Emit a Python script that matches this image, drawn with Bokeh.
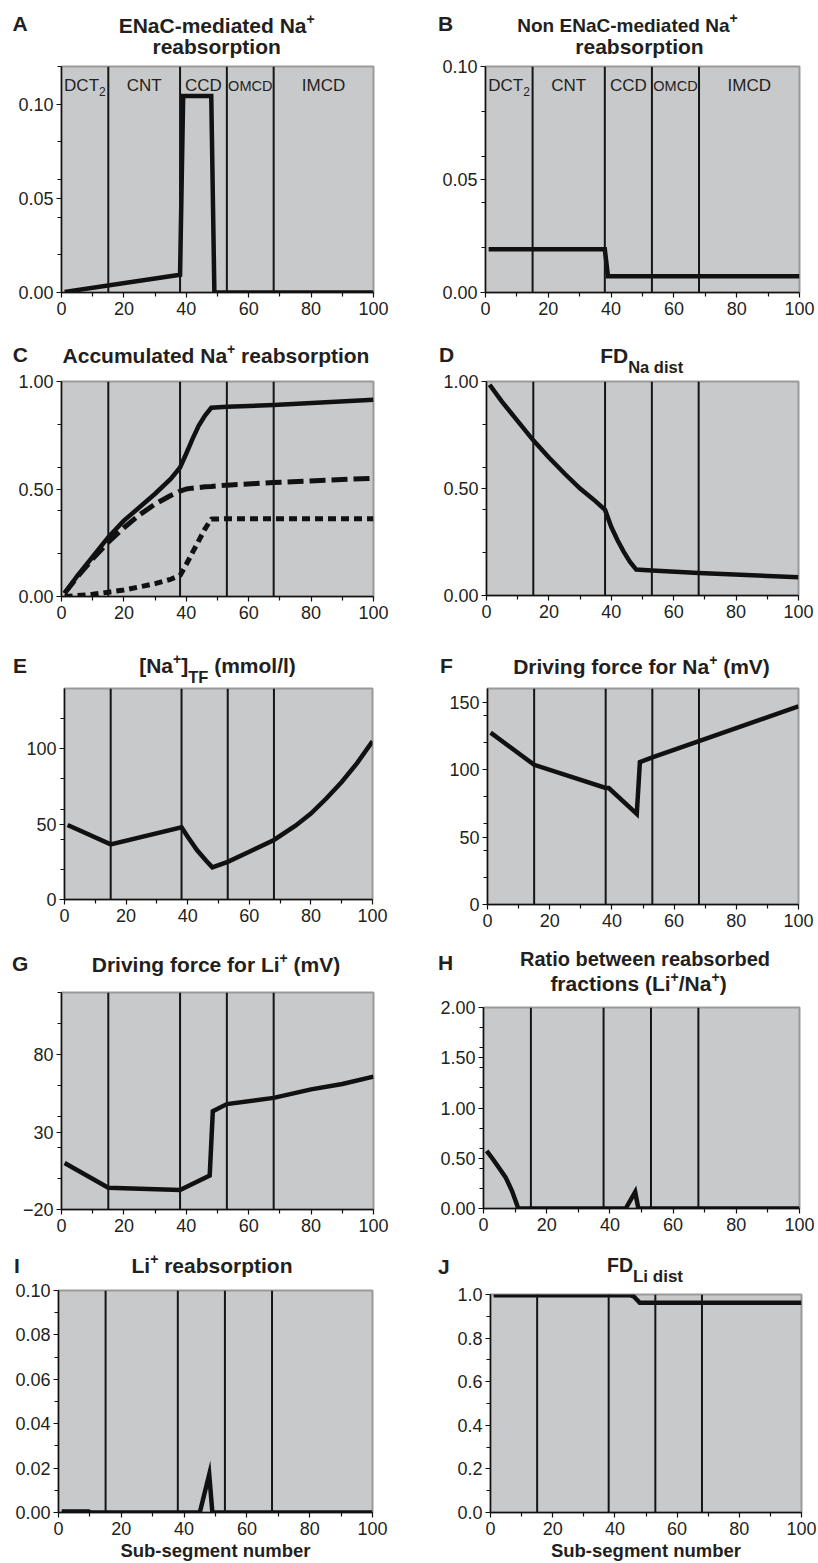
from html import escape
from bokeh.plotting import figure
from bokeh.models import Range1d, FixedTicker, Span, Label, PrintfTickFormatter, Div
from bokeh.layouts import column, row
from bokeh.embed import file_html
from bokeh.resources import INLINE

# ---------------------------------------------------------------- data
x_major = [0, 20, 40, 60, 80, 100]
x_minor = [10, 30, 50, 70, 90]
boundaries = [15, 38, 53, 68]
segment_names = ["DCT", "CNT", "CCD", "OMCD", "IMCD"]
segment_subs = ["2", "", "", "", ""]
x_axis_title = "Sub-segment number"

# A  ENaC-mediated Na+ reabsorption
enac_x = [1, 38, 39, 48, 49, 100]
enac_y = [0.0003, 0.0094, 0.1043, 0.1043, 0.0, 0.0]

# B  Non ENaC-mediated Na+ reabsorption
nonenac_x = [1, 38, 39, 100]
nonenac_y = [0.0191, 0.0191, 0.0072, 0.0072]

# C  Accumulated Na+ reabsorption
acc_x = [1, 5, 10, 15, 20, 25, 30, 35, 38, 40, 42, 44, 46, 48, 53, 68, 100]
acc_total = [0.015, 0.095, 0.185, 0.276, 0.353, 0.415, 0.478, 0.547, 0.600,
             0.665, 0.733, 0.795, 0.842, 0.878, 0.882, 0.891, 0.915]
acc_non_enac = [0.015, 0.09, 0.175, 0.253, 0.32, 0.38, 0.43, 0.47, 0.49,
                0.50, 0.504, 0.507, 0.51, 0.512, 0.518, 0.53, 0.55]
acc_enac = [0.0, 0.004, 0.01, 0.02, 0.03, 0.045, 0.06, 0.08, 0.098,
            0.15, 0.205, 0.26, 0.315, 0.36, 0.362, 0.362, 0.362]

# D  FD Na dist
fdna_x = [1, 5, 10, 15, 20, 25, 30, 35, 38, 40, 42, 44, 46, 48, 53, 68, 100]
fdna_y = [0.985, 0.905, 0.815, 0.725, 0.645, 0.57, 0.50, 0.44, 0.40,
          0.32, 0.258, 0.204, 0.157, 0.121, 0.117, 0.105, 0.085]

# E  [Na+]TF (mmol/l)
natf_x = [1, 15, 38, 40, 43, 46, 48, 53, 60, 68, 75, 80, 85, 90, 95, 100]
natf_y = [49.4, 36.6, 47.9, 41.7, 32.8, 25.7, 21.3, 25, 31.7, 39.5, 49, 57,
          67, 78, 90.5, 105]

# F  Driving force for Na+ (mV)
dfna_x = [1, 15, 38, 39, 48, 49, 53, 68, 100]
dfna_y = [127.3, 103.5, 86.3, 86.3, 67.2, 105.5, 109, 121, 146.8]

# G  Driving force for Li+ (mV)
dfli_x = [1, 15, 38, 47.5, 48.5, 53, 68, 80, 90, 100]
dfli_y = [10, -5.9, -7.4, 1.9, 43.4, 48, 52, 57.5, 61, 65.7]

# H  Ratio between reabsorbed fractions (Li+/Na+)
ratio_x = [1, 3, 5, 7, 9, 10, 11, 45, 48, 49, 100]
ratio_y = [0.574, 0.49, 0.40, 0.31, 0.176, 0.09, 0.0, 0.0, 0.166, 0.0, 0.0]

# I  Li+ reabsorption
li_x = [1, 9.5, 10.5, 45, 48, 49, 100]
li_y = [0.0005, 0.0005, 0.0, 0.0, 0.0172, 0.0, 0.0]

# J  FD Li dist
fdli_x = [1, 45, 46, 48, 100]
fdli_y = [0.996, 0.996, 0.992, 0.962, 0.962]

# ---------------------------------------------------------------- styles
FONT = "Liberation Sans"
TXT = "#231f20"
BG = "#c8c9cb"
REG_W = {' ': .278, 'C': .722, 'D': .722, 'T': .611, 'N': .722, 'O': .778,
         'M': .833, 'I': .278, '2': .556}
ASC = 0.8465  # baseline offset from top of a line box with line-height 1


def tw(s, size):
    return sum(REG_W.get(c, 0.6) for c in s) * size


def seg_label(p, parts, base, data_x, size, sub=12, sub_dy=-5.5):
    total = sum(tw(t, size if k == "n" else sub) for t, k in parts)
    x = -total / 2.0
    for t, k in parts:
        f = size if k == "n" else sub
        p.add_layout(Label(x=data_x, x_units="data", x_offset=x,
                           y=base + (0 if k == "n" else sub_dy), y_units="screen",
                           text=t, text_font=FONT, text_font_size=f"{f}px",
                           text_color=TXT, text_align="left",
                           text_baseline="alphabetic"))
        x += tw(t, f)


cols = [(0, 410), (410, 408)]           # x origin, width
rows_y = [(0, 326), (326, 306), (632, 306), (938, 304), (1242, 321)]
# frame edges (page px): col, row, left, top, right, bottom
frames = {
    "A": (0, 0, 61, 66, 373, 292), "B": (1, 0, 485, 66, 799, 292),
    "C": (0, 1, 61, 381, 373, 596), "D": (1, 1, 486, 381, 798, 595),
    "E": (0, 2, 64, 688, 372, 899), "F": (1, 2, 487, 688, 798, 904),
    "G": (0, 3, 61, 992, 373, 1209), "H": (1, 3, 483, 1007, 799, 1208),
    "I": (0, 4, 58, 1290, 372, 1513), "J": (1, 4, 490, 1294, 801, 1513),
}
yaxes = {
    "A": ((0, 0.12), [0, 0.05, 0.10], [0.02, 0.04, 0.06, 0.08, 0.12], "%.2f"),
    "B": ((0, 0.10), [0, 0.05, 0.10], [0.02, 0.04, 0.06, 0.08], "%.2f"),
    "C": ((0, 1.0), [0, 0.5, 1.0], [0.2, 0.4, 0.6, 0.8], "%.2f"),
    "D": ((0, 1.0), [0, 0.5, 1.0], [0.2, 0.4, 0.6, 0.8], "%.2f"),
    "E": ((0, 140), [0, 50, 100], [20, 40, 60, 80, 120], "%d"),
    "F": ((0, 160), [0, 50, 100, 150], [20, 40, 60, 80, 120, 140], "%d"),
    "G": ((-20, 120), [-20, 30, 80], [0, 20, 40, 60, 100, 120], "%d"),
    "H": ((0, 2.0), [0, 0.5, 1.0, 1.5, 2.0],
          [0.2, 0.4, 0.6, 0.8, 1.2, 1.4, 1.6, 1.8], "%.2f"),
    "I": ((0, 0.10), [0, 0.02, 0.04, 0.06, 0.08, 0.10],
          [0.01, 0.03, 0.05, 0.07, 0.09], "%.2f"),
    "J": ((0, 1.0), [0, 0.2, 0.4, 0.6, 0.8, 1.0], [0.1, 0.3, 0.5, 0.7, 0.9], "%.1f"),
}
# (centre x, baseline y, parts, font size, sub size)
titles = {
    "A": [(216.7, 32.5, [("ENaC-mediated Na", "n"), ("+", "sup")], 21, 16.5),
          (216.7, 53.3, [("reabsorption", "n")], 21, 16.5)],
    "B": [(627.5, 31.7, [("Non ENaC-mediated Na", "n"), ("+", "sup")], 19, 16.5),
          (639.5, 53.3, [("reabsorption", "n")], 21, 16.5)],
    "C": [(216, 362.3, [("Accumulated Na", "n"), ("+", "sup"), (" reabsorption", "n")], 21, 16.5)],
    "D": [(641.7, 362.7, [("FD", "n"), ("Na dist", "sub")], 21, 16.5)],
    "E": [(217.5, 673, [("[Na", "n"), ("+", "sup"), ("]", "n"), ("TF", "sub"),
                        (" (mmol/l)", "n")], 21, 16.5)],
    "F": [(641.5, 673.3, [("Driving force for Na", "n"), ("+", "sup"), (" (mV)", "n")], 21, 16.5)],
    "G": [(216, 971.7, [("Driving force for Li", "n"), ("+", "sup"), (" (mV)", "n")], 21, 16.5)],
    "H": [(645, 966, [("Ratio between reabsorbed", "n")], 20, 16.5),
          (638.5, 991, [("fractions (Li", "n"), ("+", "sup"), ("/Na", "n"),
                        ("+", "sup"), (")", "n")], 21, 16.5)],
    "I": [(212, 1272.3, [("Li", "n"), ("+", "sup"), (" reabsorption", "n")], 21, 16.5)],
    "J": [(645, 1272.3, [("FD", "n"), ("Li dist", "sub")], 19.5, 17)],
}
letters = {"A": (12.5, 30.7), "B": (438, 30.7), "C": (12.7, 362), "D": (439, 362),
           "E": (13, 672.7), "F": (440, 673), "G": (12, 970.7), "H": (438, 970),
           "I": (14, 1273), "J": (438, 1273.3)}

series = {
    "A": [(enac_x, enac_y, None)],
    "B": [(nonenac_x, nonenac_y, None)],
    "C": [(acc_x, acc_total, None), (acc_x, acc_non_enac, "16 6"), (acc_x, acc_enac, "8 5")],
    "D": [(fdna_x, fdna_y, None)],
    "E": [(natf_x, natf_y, None)],
    "F": [(dfna_x, dfna_y, None)],
    "G": [(dfli_x, dfli_y, None)],
    "H": [(ratio_x, ratio_y, None)],
    "I": [(li_x, li_y, None)],
    "J": [(fdli_x, fdli_y, None)],
}
TOP_PAD = 13
SUP_SIZE, SUP_DY, SUB_DY = 14, 9, -10


def rich_html(parts, sub_size):
    out = []
    for t, k in parts:
        t = escape(t)
        if k == "n":
            out.append(t)
        elif k == "sup":
            out.append(f'<span style="font-size:{SUP_SIZE}px;vertical-align:{SUP_DY}px;'
                       f'line-height:0">{t}</span>')
        else:
            out.append(f'<span style="font-size:{sub_size}px;vertical-align:{SUB_DY}px;'
                       f'line-height:0">{t}</span>')
    return "".join(out)


def make_head(key):
    c, r, L, T, R, B = frames[key]
    x0, w = cols[c]
    y0, _ = rows_y[r]
    hh = T - TOP_PAD - y0
    pieces = []
    for cx, base, parts, size, sub_size in titles[key]:
        lx = cx - x0
        half = min(lx, w - lx)
        top = base - y0 - ASC * size
        pieces.append(
            f'<div style="position:absolute;left:{lx - half:.1f}px;width:{2 * half:.1f}px;'
            f'top:{top:.1f}px;text-align:center;font-family:\'{FONT}\';font-weight:bold;'
            f'font-size:{size}px;line-height:1;white-space:nowrap;color:{TXT}">'
            f'{rich_html(parts, sub_size)}</div>')
    lx, lb = letters[key]
    pieces.append(
        f'<div style="position:absolute;left:{lx - x0:.1f}px;top:{lb - y0 - ASC * 21:.1f}px;'
        f'font-family:\'{FONT}\';font-weight:bold;font-size:21px;line-height:1;'
        f'white-space:nowrap;color:{TXT}">{key}</div>')
    html = (f'<div style="position:relative;width:{w}px;height:{hh}px;margin:0;'
            f'padding:0;overflow:visible">' + "".join(pieces) + "</div>")
    return Div(text=html, width=w, height=hh, margin=0,
               styles={"margin": "0", "padding": "0", "overflow": "visible",
                       "z-index": "2"})


def make_plot(key):
    c, r, L, T, R, B = frames[key]
    x0, w = cols[c]
    y0, ch = rows_y[r]
    top = T - TOP_PAD
    h = y0 + ch - top
    (ylo, yhi), ymaj, ymin, fmt = yaxes[key]
    p = figure(width=w, height=h, x_range=Range1d(0, 100),
               y_range=Range1d(ylo, yhi), output_backend="svg",
               toolbar_location=None, min_border_left=L - x0,
               min_border_right=x0 + w - R, min_border_top=TOP_PAD,
               min_border_bottom=y0 + ch - B, background_fill_color=BG,
               border_fill_color=None, outline_line_color="#9a9a9a",
               outline_line_width=2, margin=0)
    p.xgrid.visible = False
    p.ygrid.visible = False

    for b in boundaries:
        p.add_layout(Span(location=b, dimension="height", line_color="#151515",
                          line_width=2))
    for xs, ys, dash in series[key]:
        kw = dict(line_color="#111111", line_width=4.5 if dash is None else 5,
                  line_join="miter" if dash is None else "bevel")
        if dash is not None:
            kw["line_dash"] = dash
        p.line(xs, ys, **kw)

    xa = p.xaxis[0]
    xa.ticker = FixedTicker(ticks=x_major, minor_ticks=x_minor)
    ya = p.yaxis[0]
    ya.ticker = FixedTicker(ticks=ymaj, minor_ticks=ymin)
    ya.formatter = PrintfTickFormatter(format=fmt)
    if key == "G":
        ya.major_label_overrides = {-20: "\u221220"}
    for ax, so in ((xa, 4), (ya, 3)):
        ax.axis_line_color = "#111111"
        ax.axis_line_width = 1.5
        ax.major_tick_line_color = "#111111"
        ax.minor_tick_line_color = "#111111"
        ax.major_tick_line_width = 1.2
        ax.minor_tick_line_width = 1.2
        ax.major_tick_in = 0
        ax.major_tick_out = 5
        ax.minor_tick_in = 0
        ax.minor_tick_out = 4
        ax.major_label_text_font = FONT
        ax.major_label_text_font_size = "18px"
        ax.major_label_text_color = TXT
        ax.major_label_standoff = so
    if key in ("I", "J"):
        xa.axis_label = x_axis_title
        xa.axis_label_text_font = FONT
        xa.axis_label_text_font_size = "18.5px"
        xa.axis_label_text_font_style = "bold"
        xa.axis_label_text_color = TXT
        xa.axis_label_standoff = 2

    # segment names inside A and B
    if key in ("A", "B"):
        edges = [0] + boundaries + [100]
        base = (B - T) - 19
        for i, name in enumerate(segment_names):
            mid = (edges[i] + edges[i + 1]) / 2.0
            parts = [(name, "n")]
            if segment_subs[i]:
                parts.append((segment_subs[i], "sub"))
            size = 14.5 if name == "OMCD" else 17
            seg_label(p, parts, base, mid, size)
    return p


cells = {k: column(make_head(k), make_plot(k), spacing=0, margin=0) for k in "ABCDEFGHIJ"}
layout = column(
    row(cells["A"], cells["B"], spacing=0, margin=0),
    row(cells["C"], cells["D"], spacing=0, margin=0),
    row(cells["E"], cells["F"], spacing=0, margin=0),
    row(cells["G"], cells["H"], spacing=0, margin=0),
    row(cells["I"], cells["J"], spacing=0, margin=0),
    spacing=0, margin=0,
)

open("out.html", "w").write(file_html(layout, INLINE))
